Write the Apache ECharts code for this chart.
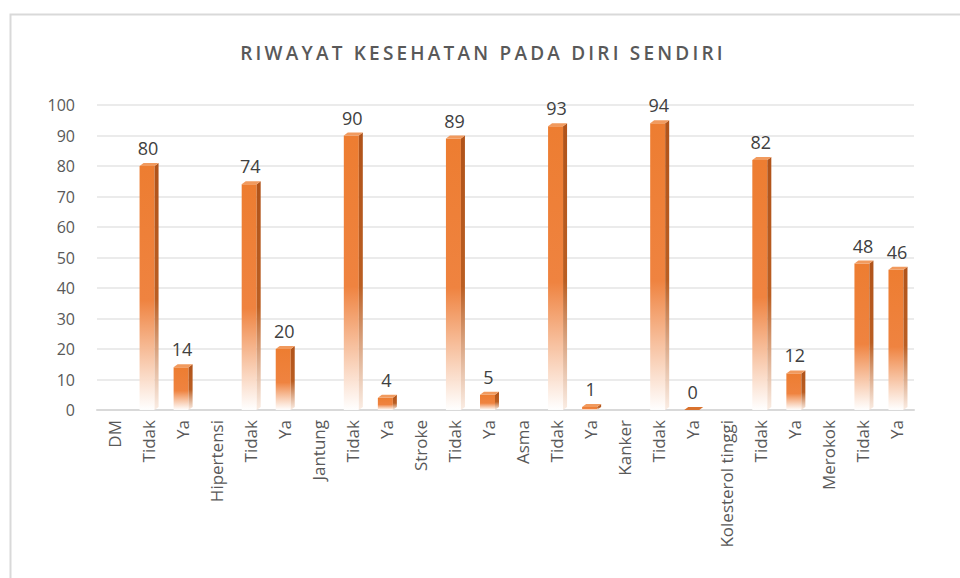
<!DOCTYPE html>
<html>
<head>
<meta charset="utf-8">
<script src="https://cdn.jsdelivr.net/npm/echarts@6/dist/echarts.min.js"></script>
<style>html,body{margin:0;padding:0;background:#fff;}#c{width:960px;height:578px;}</style>
</head>
<body>
<div id="c"></div>
<script>
const titleText = 'RIWAYAT KESEHATAN PADA DIRI SENDIRI';
const categories = ['DM','Tidak','Ya','Hipertensi','Tidak','Ya','Jantung','Tidak','Ya','Stroke','Tidak','Ya','Asma','Tidak','Ya','Kanker','Tidak','Ya','Kolesterol tinggi','Tidak','Ya','Merokok','Tidak','Ya'];
const values = [null,80,14,null,74,20,null,90,4,null,89,5,null,93,1,null,94,0,null,82,12,null,48,46];
const yTicks = {min:0, max:100, interval:10};

const chart = echarts.init(document.getElementById('c'), null, {renderer: 'svg'});
const FONT = '"Open Sans", sans-serif';

function renderItem(params, api) {
  const v = api.value(1);
  if (v === null || v === undefined || isNaN(v)) return null;
  const idx = api.value(0);
  const top = api.coord([idx, v]);
  const base = api.coord([idx, 0]);
  const w = 15, dx = 4, dy = 3;
  const x = top[0] - w / 2 - 1;
  const y = top[1];
  const h = base[1] - y;
  const front = new echarts.graphic.LinearGradient(0, 0, 0, 1, [
    {offset: 0, color: '#ED7D31'},
    {offset: 0.55, color: '#EF8340'},
    {offset: 1, color: 'rgba(255,255,255,0.95)'}
  ]);
  const side = new echarts.graphic.LinearGradient(0, 0, 0, 1, [
    {offset: 0, color: '#B0531A'},
    {offset: 0.55, color: '#BA5E22'},
    {offset: 1, color: 'rgba(250,235,225,0.9)'}
  ]);
  const children = [];
  if (h > 0) {
    children.push({type: 'rect', shape: {x: x, y: y, width: w, height: h}, style: {fill: front}});
    children.push({type: 'polygon', shape: {points: [[x + w, y], [x + w + dx, y - dy], [x + w + dx, base[1] - dy], [x + w, base[1]]]}, style: {fill: side}});
  }
  children.push({type: 'polygon', shape: {points: [[x, y], [x + dx, y - dy], [x + w + dx, y - dy], [x + w, y]]}, style: {fill: h > 0 ? '#F19A5E' : '#D9722E'}});
  children.push({type: 'text', style: {text: String(v), x: x + w / 2 + 1, y: y - dy - 6, align: 'center', verticalAlign: 'bottom', fill: '#404040', font: '18px ' + FONT}});
  return {type: 'group', children: children};
}

chart.setOption({
  animation: false,
  title: {text: titleText, left: 'center', top: 38, textStyle: {fontFamily: FONT, fontSize: 19, fontWeight: 600, color: '#595959'}},
  graphic: [{type: 'rect', left: 8, top: 12, shape: {width: 1100, height: 700}, style: {fill: 'none', stroke: '#d9d9d9', lineWidth: 2}, silent: true}],
  grid: {left: 97, right: 46, top: 105, bottom: 168},
  xAxis: {
    type: 'category', data: categories,
    axisLine: {lineStyle: {color: '#d9d9d9', width: 2}},
    axisTick: {show: false},
    axisLabel: {rotate: 90, interval: 0, fontFamily: FONT, fontSize: 17, color: '#595959', margin: 10}
  },
  yAxis: {
    type: 'value', min: yTicks.min, max: yTicks.max, interval: yTicks.interval,
    axisLine: {show: false}, axisTick: {show: false},
    axisLabel: {fontFamily: FONT, fontSize: 16, color: '#595959', margin: 22},
    splitLine: {lineStyle: {color: '#ebebeb', width: 2}}
  },
  series: [{
    type: 'custom', renderItem: renderItem,
    data: values.map((v, i) => [i, v]),
    encode: {x: 0, y: 1}
  }]
});

function spaceTitle() {
  document.querySelectorAll('#c text').forEach(function (t) {
    if (t.textContent === titleText) {
      t.setAttribute('letter-spacing', '3.2');
      t.style.letterSpacing = '3.2px';
      t.setAttribute('dx', '3');
    }
  });
}
chart.getZr().refreshImmediately();
spaceTitle();
chart.on('finished', spaceTitle);
</script>
</body>
</html>
